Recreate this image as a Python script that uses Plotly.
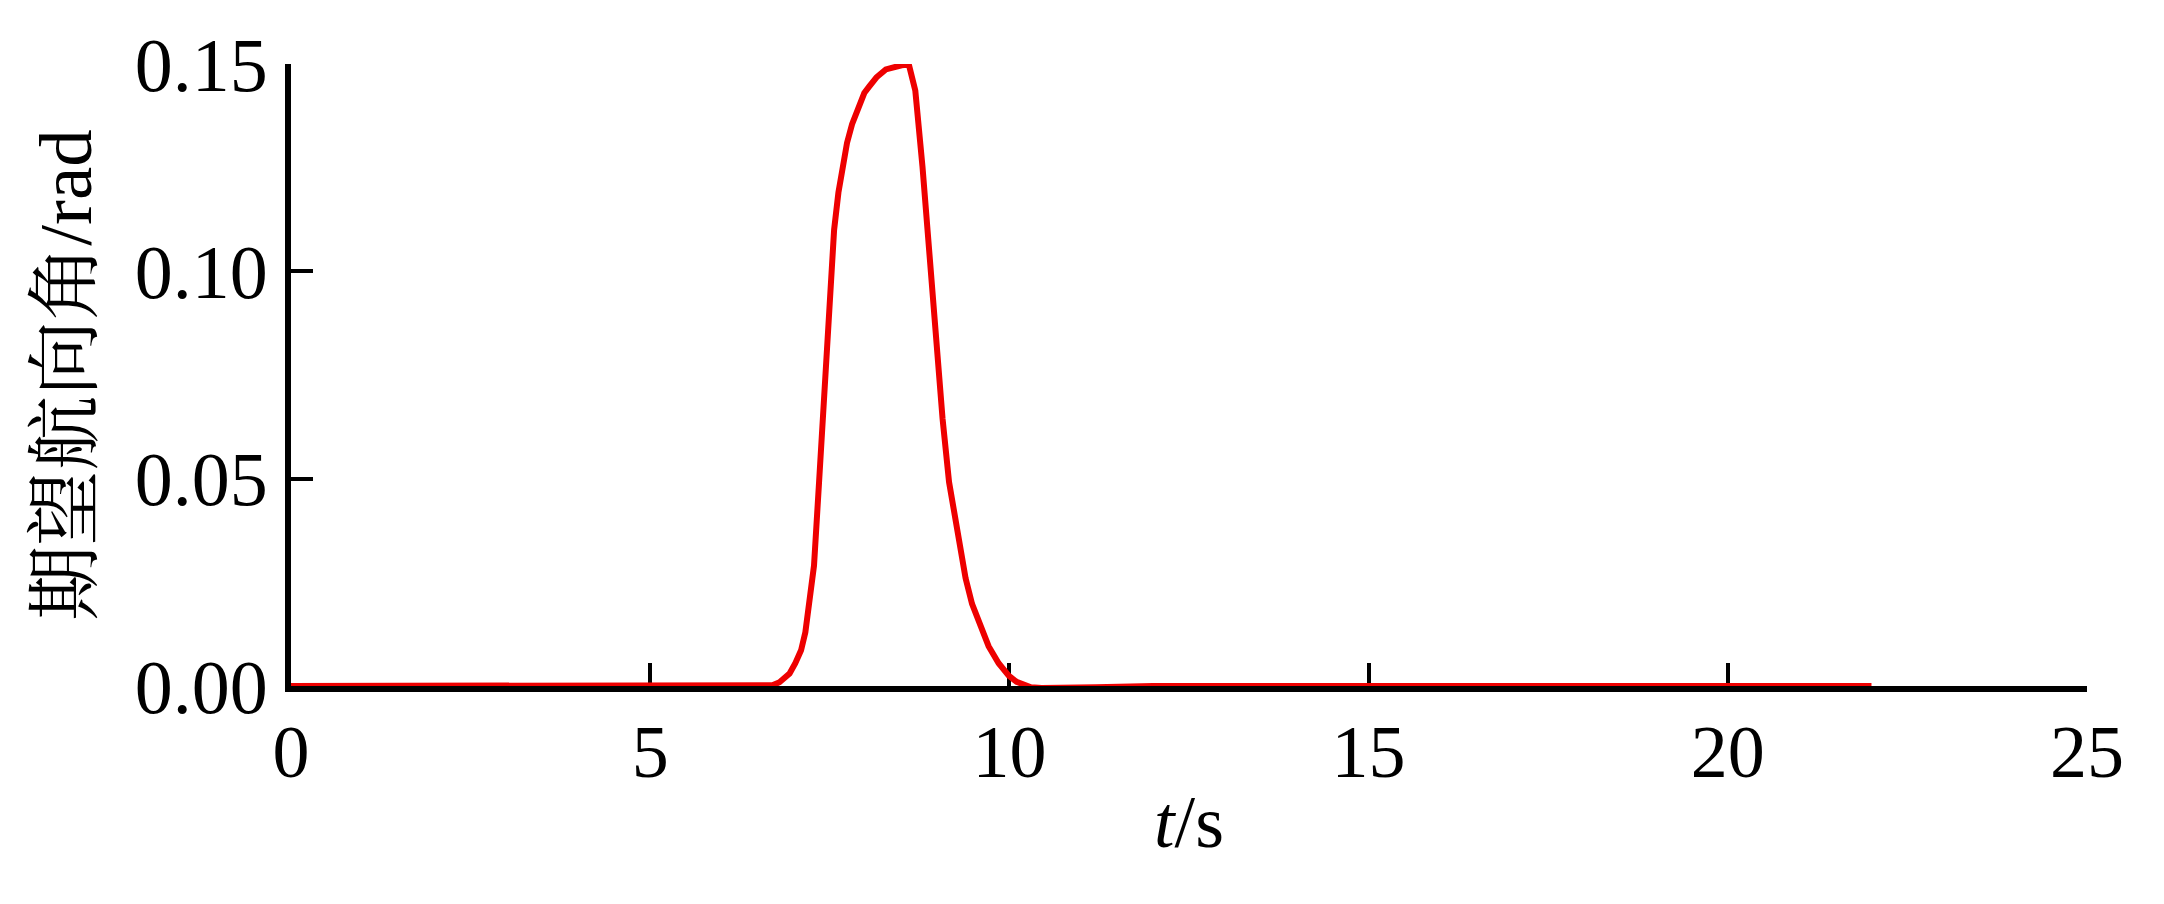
import plotly.graph_objects as go

# Data
t_s = [0.00, 6.60, 6.70, 6.80, 6.94, 7.02, 7.10, 7.16, 7.21, 7.25, 7.28, 7.35,
       7.42, 7.49, 7.56, 7.62, 7.68, 7.74, 7.81, 7.90, 7.98, 8.05, 8.15, 8.28,
       8.40, 8.50, 8.60, 8.69, 8.79, 8.88, 8.97, 9.07, 9.16, 9.30, 9.39, 9.48,
       9.60, 9.71, 9.85, 9.99, 10.10, 10.20, 10.30, 10.45, 10.70, 11.20, 12.00,
       22.00]
heading = [0.0, 0.0, 0.0002, 0.0009, 0.003, 0.0055, 0.0086, 0.013, 0.0188, 0.024,
           0.029, 0.049, 0.0695, 0.0898, 0.110, 0.119, 0.1253, 0.131, 0.1355,
           0.140, 0.143, 0.1446, 0.1468, 0.1487, 0.1494, 0.1497, 0.1499, 0.1436,
           0.1253, 0.105, 0.0847, 0.0644, 0.0492, 0.034, 0.026, 0.0198, 0.014,
           0.0096, 0.0055, 0.0025, 0.001, 0.0002, -0.0003, -0.0005, -0.0005,
           -0.0003, 0.0, 0.0]

x_ticks = [0, 5, 10, 15, 20, 25]
y_ticks = [0.0, 0.05, 0.10, 0.15]
y_ticktext = ["0.00", "0.05", "0.10", "0.15"]

FONT = "Times New Roman, Liberation Serif, Noto Serif CJK SC, Noto Sans CJK SC, serif"

fig = go.Figure()
fig.add_trace(go.Scatter(
    x=t_s, y=heading, mode="lines",
    line=dict(color="#ee0000", width=6),
    showlegend=False,
))

fig.update_layout(
    width=2164, height=904,
    margin=dict(l=283, r=85, t=56, b=226),
    paper_bgcolor="white", plot_bgcolor="white",
    font=dict(family=FONT, size=72, color="black"),
    xaxis=dict(
        range=[0, 25], tickvals=x_ticks, ticktext=[str(v) for v in x_ticks],
        showline=True, linecolor="black", linewidth=6,
        ticks="inside", ticklen=23, tickwidth=4, tickcolor="black",
        showgrid=False, zeroline=False, layer="below traces",
        ticklabelstandoff=-4, tickfont=dict(size=74),
        title=dict(text="<i>t</i>/s", font=dict(family=FONT, size=74), standoff=5),
        automargin=False,
    ),
    yaxis=dict(
        range=[0, 0.15], tickvals=y_ticks, ticktext=y_ticktext,
        showline=True, linecolor="black", linewidth=6,
        ticks="inside", ticklen=22, tickwidth=4, tickcolor="black",
        showgrid=False, zeroline=False, layer="below traces",
        ticklabelstandoff=2, tickfont=dict(size=76),
        title=dict(text="期望航向角/rad", font=dict(family=FONT, size=75), standoff=21),
        automargin=False,
    ),
)

fig.write_html("out.html")
